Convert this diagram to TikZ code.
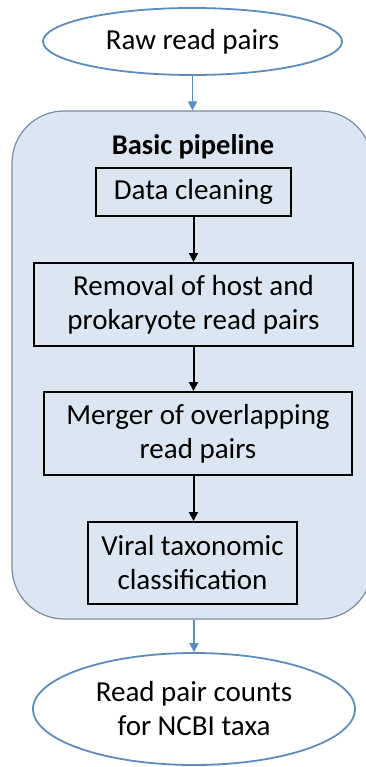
\documentclass[tikz,border=0pt]{standalone}
\usepackage{fontspec}
\setmainfont{Carlito}
\usetikzlibrary{shapes.geometric,arrows.meta}
\definecolor{ellblue}{HTML}{5B8CC0}
\definecolor{contfill}{HTML}{DCE6F2}
\definecolor{contline}{HTML}{7A8CA3}
\tikzset{
  txt/.style={font=\fontsize{29}{34}\selectfont, align=center, inner sep=0pt},
  ellnode/.style={txt, ellipse, draw=ellblue, line width=1.8pt, fill=white},
  stepbox/.style={txt, rectangle, draw=black, line width=2pt},
  blarrow/.style={draw=ellblue, line width=1.8pt, -{Triangle[length=9pt,width=9pt]}},
  bkarrow/.style={draw=black, line width=2pt, -{Triangle[length=9pt,width=9pt]}},
}
\begin{document}
\begin{tikzpicture}[x=1pt,y=-1pt]
\useasboundingbox (0,0) rectangle (366,767);
\node[ellnode, minimum width=299pt, minimum height=67pt] (top) at (192.5,41.5) {Raw read pairs};
\node[rectangle, rounded corners=52pt, draw=contline, line width=1.2pt, fill=contfill,
      minimum width=360pt, minimum height=508pt, inner sep=0pt] (pipe) at (192,365) {};
\node[txt, font=\fontsize{28.5}{34}\selectfont\bfseries] (title) at (193,147) {Basic pipeline};
\node[stepbox, minimum width=195pt, minimum height=48pt] (clean) at (193.5,192) {Data cleaning};
\node[stepbox, minimum width=319pt, minimum height=83pt] (removal) at (193.5,304.5) {Removal of host and\\prokaryote read pairs};
\node[stepbox, minimum width=308pt, minimum height=83pt] (merger) at (198,433.5) {Merger of overlapping\\read pairs};
\node[stepbox, minimum width=209pt, minimum height=82pt] (viral) at (192.5,563) {Viral taxonomic\\classification};
\node[ellnode, minimum width=322pt, minimum height=112pt] (bottom) at (194,709) {Read pair counts\\for NCBI taxa};
\draw[blarrow] (top.south) -- (top.south |- pipe.north);
\draw[bkarrow] (clean.south) -- (clean.south |- removal.north);
\draw[bkarrow] (removal.south) -- (removal.south |- merger.north);
\draw[bkarrow] (removal.south |- merger.south) -- (removal.south |- viral.north);
\draw[blarrow] (bottom.north |- pipe.south) -- (bottom.north);
\end{tikzpicture}
\end{document}
